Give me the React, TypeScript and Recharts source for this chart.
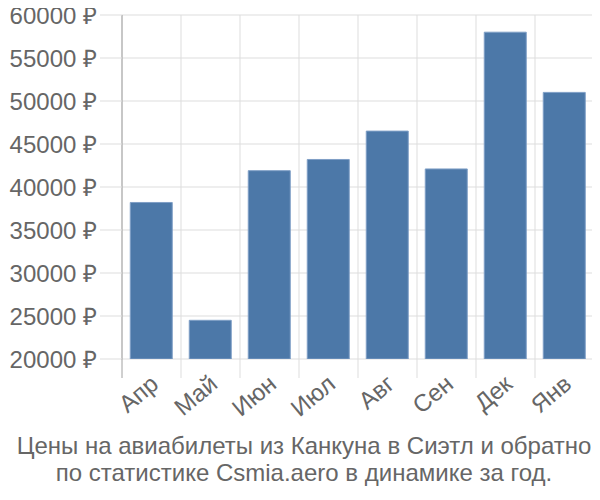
import { Bar, BarChart, CartesianGrid, XAxis, YAxis } from "recharts";

const MONTHS = ["Апр", "Май", "Июн", "Июл", "Авг", "Сен", "Дек", "Янв"];
const PRICES = [38200, 24500, 41900, 43200, 46500, 42100, 58000, 51000];
const Y_TICKS = [20000, 25000, 30000, 35000, 40000, 45000, 50000, 55000, 60000];
const TITLE = ["Цены на авиабилеты из Канкуна в Сиэтл и обратно", "по статистике Csmia.aero в динамике за год."];

const FONT = "'Liberation Sans', Arial, sans-serif";
const TEXT = "#666";
const GRID = "#ddd";
const AXIS = "#a0a0a0";

// layout (svg pulled up 6px so the top tick label stays inside it)
const W = 592;
const H = 426;
const M = { top: 13, right: 6, left: 0, bottom: 0 };
const Y_W = 114;
const X_H = 69;
const PLOT_BOTTOM = H - M.bottom - X_H;
const BAND = (W - M.left - M.right - Y_W) / MONTHS.length;

const rows = MONTHS.map((m, i) => ({ month: m, price: PRICES[i] }));

function MonthTick({ x, payload, index }: any) {
  const left = x - BAND / 2;
  return (
    <g>
      <line x1={left} x2={left} y1={PLOT_BOTTOM} y2={PLOT_BOTTOM + 19} stroke={index === 0 ? AXIS : GRID} />
      {index === MONTHS.length - 1 && (
        <line x1={left + BAND} x2={left + BAND} y1={PLOT_BOTTOM} y2={PLOT_BOTTOM + 19} stroke={GRID} />
      )}
      <g transform={`translate(${x + 3},${PLOT_BOTTOM + 21}) rotate(-40)`}>
        <text textAnchor="end" fill={TEXT} fontSize={24} fontFamily={FONT} dy="0.35em">
          {payload.value}
        </text>
      </g>
    </g>
  );
}

export default function App() {
  return (
    <div style={{ width: W, marginTop: -6, fontFamily: FONT }}>
      <BarChart width={W} height={H} data={rows} margin={M} barCategoryGap="14%">
        <CartesianGrid
          stroke={GRID}
          verticalCoordinatesGenerator={({ offset }: any) =>
            MONTHS.map((_, i) => offset.left + i * BAND).concat(offset.left + offset.width)
          }
        />
        <XAxis dataKey="month" tick={<MonthTick />} tickLine={false} axisLine={false} interval={0} height={X_H} />
        <YAxis
          domain={[20000, 60000]}
          ticks={Y_TICKS}
          interval={0}
          allowDataOverflow
          width={Y_W}
          tickSize={22}
          tickMargin={3}
          tickLine={{ stroke: GRID }}
          axisLine={{ stroke: AXIS }}
          tick={{ fill: TEXT, fontSize: 24, fontFamily: FONT }}
          tickFormatter={(v: number) => `${v} ₽`}
        />
        <Bar dataKey="price" fill="#4c78a8" stroke="#7f9fc6" strokeWidth={1} isAnimationActive={false} />
      </BarChart>
      <div style={{ marginTop: 4, textAlign: "center", color: TEXT, fontSize: 24, lineHeight: "27px" }}>
        {TITLE.map((t) => (
          <div key={t}>{t}</div>
        ))}
      </div>
    </div>
  );
}
